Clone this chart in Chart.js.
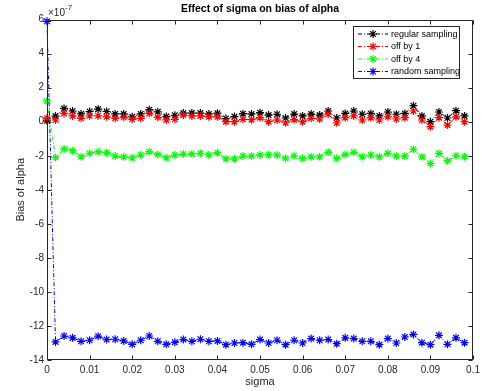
<!DOCTYPE html>
<html>
<head>
<meta charset="utf-8">
<script src="https://cdn.jsdelivr.net/npm/chart.js@4.4.0/dist/chart.umd.min.js"></script>
<style>
    html, body { margin: 0; padding: 0; background: #fff; }
</style>
</head>
<body>
<canvas id="myChart" width="484" height="391"></canvas>
<script>
// values are in units of 1e-7
const sigma = [
    0, 0.002, 0.004, 0.006, 0.008, 0.010, 0.012, 0.014, 0.016, 0.018,
    0.020, 0.022, 0.024, 0.026, 0.028, 0.030, 0.032, 0.034, 0.036, 0.038,
    0.040, 0.042, 0.044, 0.046, 0.048, 0.050, 0.052, 0.054, 0.056, 0.058,
    0.060, 0.062, 0.064, 0.066, 0.068, 0.070, 0.072, 0.074, 0.076, 0.078,
    0.080, 0.082, 0.084, 0.086, 0.088, 0.090, 0.092, 0.094, 0.096, 0.098
];

const regularSampling = [
    0.05, 0.33, 0.78, 0.63, 0.46, 0.60, 0.74, 0.60, 0.46, 0.46,
    0.29, 0.46, 0.71, 0.58, 0.30, 0.38, 0.51, 0.51, 0.51, 0.45,
    0.50, 0.19, 0.30, 0.47, 0.45, 0.53, 0.39, 0.44, 0.22, 0.45,
    0.34, 0.45, 0.39, 0.63, 0.22, 0.49, 0.63, 0.44, 0.49, 0.34,
    0.57, 0.44, 0.49, 0.94, 0.34, 0.00, 0.57, 0.22, 0.65, 0.34
];

const offBy1 = [
    0.22, 0.10, 0.49, 0.34, 0.20, 0.35, 0.35, 0.29, 0.20, 0.26,
    0.14, 0.20, 0.49, 0.26, 0.10, 0.14, 0.39, 0.34, 0.34, 0.29,
    0.29, 0.00, 0.00, 0.14, 0.12, 0.24, 0.00, 0.10, -0.06, 0.12,
    0.00, 0.20, 0.16, 0.44, -0.06, 0.24, 0.34, 0.10, 0.24, 0.10,
    0.29, 0.16, 0.24, 0.63, 0.10, -0.29, 0.24, -0.20, 0.29, 0.00
];

const offBy4 = [
    1.22, -2.10, -1.60, -1.70, -2.06, -1.86, -1.76, -1.82, -2.02, -2.06,
    -2.12, -1.96, -1.76, -1.92, -2.12, -1.96, -1.90, -1.90, -1.86, -1.94,
    -1.82, -2.18, -2.18, -2.02, -2.02, -1.96, -1.94, -1.96, -2.14, -2.00,
    -2.15, -2.06, -2.06, -1.80, -2.15, -1.92, -1.80, -2.06, -1.96, -2.06,
    -1.86, -2.02, -2.02, -1.62, -2.06, -2.45, -1.86, -2.29, -2.00, -2.06
];

const randomSampling = [
    5.90, -12.94, -12.59, -12.70, -12.90, -12.84, -12.60, -12.80, -12.78, -12.88,
    -13.08, -12.84, -12.59, -12.90, -13.08, -12.96, -12.80, -12.90, -12.78, -12.90,
    -12.88, -13.10, -13.00, -12.98, -13.08, -12.80, -13.00, -12.84, -13.10, -12.84,
    -13.00, -12.74, -12.84, -12.80, -13.04, -12.70, -12.74, -12.90, -12.90, -13.10,
    -12.74, -13.00, -12.65, -12.50, -12.98, -13.10, -12.55, -13.08, -12.70, -12.98
];

const seriesNames = ["regular sampling", "off by 1", "off by 4", "random sampling"];
const seriesColors = ["#000000", "#ff0000", "#00ff00", "#0000ff"];

const xTickLabels = ["0", "0.01", "0.02", "0.03", "0.04", "0.05", "0.06", "0.07", "0.08", "0.09", "0.1"];
const yTickLabels = ["-14", "-12", "-10", "-8", "-6", "-4", "-2", "0", "2", "4", "6"];
const exponentLabel = "-7";

const FONT = '"Liberation Sans", Arial, sans-serif';
const DASH = [4, 2, 1, 2];

function init() {

    const allSeries = [regularSampling, offBy1, offBy4, randomSampling];

    const datasets = allSeries.map((vals, i) => ({
        label: seriesNames[i],
        data: vals.map((v, k) => ({ x: sigma[k], y: v })),
        borderColor: seriesColors[i],
        backgroundColor: seriesColors[i],
        borderWidth: 1,
        borderDash: DASH,
        pointStyle: 'star',
        pointRadius: 4,
        pointBorderWidth: 1.2,
        pointBorderColor: seriesColors[i],
        tension: 0,
        clip: false,
        order: 4 - i,
    }));

    // box, inward ticks, exponent and legend like matlab
    const matlabAxes = {
        id: 'matlabAxes',
        afterDatasetsDraw(chart) {
            const { ctx, chartArea: a, scales: { x, y } } = chart;
            ctx.save();
            ctx.strokeStyle = '#262626';
            ctx.lineWidth = 1;
            ctx.setLineDash([]);
            const L = Math.round(a.left) + 0.5;
            const R = Math.round(a.right) - 0.5;
            const T = Math.round(a.top) + 0.5;
            const B = Math.round(a.bottom) - 0.5;
            ctx.strokeRect(L, T, R - L, B - T);

            ctx.beginPath();
            x.ticks.forEach(t => {
                const px = Math.round(x.getPixelForValue(t.value)) + 0.5;
                ctx.moveTo(px, B); ctx.lineTo(px, B - 4);
                ctx.moveTo(px, T); ctx.lineTo(px, T + 4);
            });
            y.ticks.forEach(t => {
                const py = Math.round(y.getPixelForValue(t.value)) + 0.5;
                ctx.moveTo(L, py); ctx.lineTo(L + 4, py);
                ctx.moveTo(R, py); ctx.lineTo(R - 4, py);
            });
            ctx.stroke();

            // x10^-7
            ctx.fillStyle = '#262626';
            ctx.textBaseline = 'alphabetic';
            ctx.textAlign = 'left';
            ctx.font = '10px ' + FONT;
            const base = '\u00d710';
            ctx.fillText(base, a.left + 1, a.top - 4);
            const w = ctx.measureText(base).width;
            ctx.font = '8px ' + FONT;
            ctx.fillText(exponentLabel, a.left + 1 + w, a.top - 9.5);

            // legend
            const bx = 353.5, by = 26.5, bw = 106, bh = 52;
            ctx.fillStyle = '#ffffff';
            ctx.fillRect(bx, by, bw, bh);
            ctx.strokeStyle = '#262626';
            ctx.strokeRect(bx, by, bw, bh);
            ctx.font = '9px ' + FONT;
            ctx.textBaseline = 'middle';
            chart.data.datasets.forEach((ds, i) => {
                const cy = 34 + i * 12.5;
                ctx.strokeStyle = ds.borderColor;
                ctx.lineWidth = 1;
                ctx.setLineDash(DASH);
                ctx.beginPath();
                ctx.moveTo(358, cy);
                ctx.lineTo(388, cy);
                ctx.stroke();
                ctx.setLineDash([]);
                ctx.lineWidth = 1.2;
                Chart.helpers.drawPoint(ctx, { pointStyle: 'star', radius: 4, borderWidth: 1.2, rotation: 0 }, 373, cy);
                ctx.fillStyle = '#000000';
                ctx.fillText(ds.label, 391, cy + 0.5);
            });
            ctx.restore();
        }
    };

    const ctx = document.getElementById('myChart');

    new Chart(ctx, {
        type: 'line',
        data: { datasets: datasets },
        plugins: [matlabAxes],
        options: {
            responsive: false,
            animation: false,
            events: [],
            layout: { padding: { left: 0, right: 6, top: 0, bottom: 0 } },
            plugins: {
                legend: { display: false },
                tooltip: { enabled: false },
                title: {
                    display: true,
                    text: 'Effect of sigma on bias of alpha',
                    fullSize: false,
                    color: '#000000',
                    font: { family: FONT, size: 10.5, weight: 'bold' },
                    padding: { top: 3, bottom: 4 }
                }
            },
            scales: {
                x: {
                    type: 'linear',
                    min: 0,
                    max: 0.1,
                    border: { display: false },
                    grid: { display: false, drawTicks: false },
                    ticks: {
                        stepSize: 0.01,
                        padding: 4,
                        autoSkip: false,
                        maxRotation: 0,
                        color: '#262626',
                        font: { family: FONT, size: 10 },
                        callback: (v, i) => xTickLabels[i]
                    },
                    title: {
                        display: true,
                        text: 'sigma',
                        color: '#262626',
                        font: { family: FONT, size: 11 },
                        padding: { top: 0, bottom: 2 }
                    },
                    afterFit: s => { s.height = 31; }
                },
                y: {
                    min: -14,
                    max: 6,
                    border: { display: false },
                    grid: { display: false, drawTicks: false },
                    ticks: {
                        stepSize: 2,
                        padding: 3,
                        color: '#262626',
                        font: { family: FONT, size: 10 },
                        callback: (v, i) => yTickLabels[i]
                    },
                    title: {
                        display: true,
                        text: 'Bias of alpha',
                        color: '#262626',
                        font: { family: FONT, size: 11 },
                        padding: { top: 14, bottom: 0 }
                    },
                    afterFit: s => { s.width = 47; }
                }
            }
        }
    });
}

window.onload = () => {
    init();
};
</script>
</body>
</html>
